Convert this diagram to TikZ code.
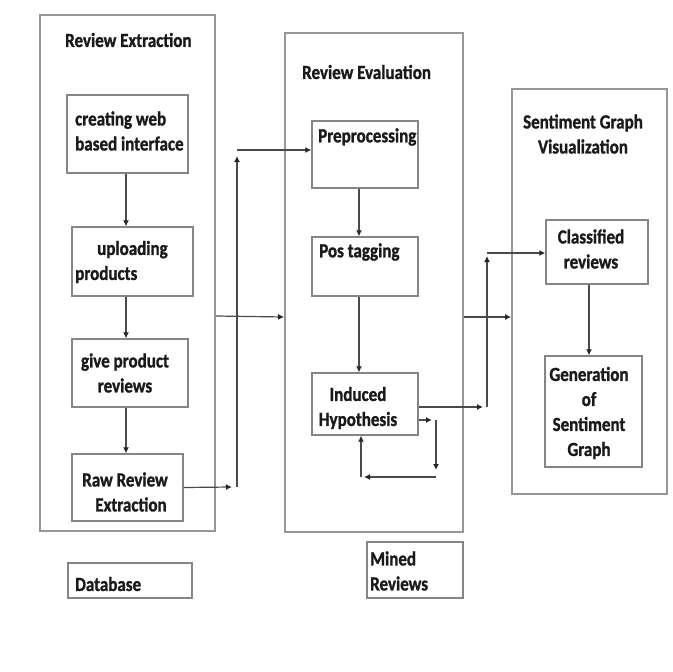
\documentclass[tikz,border=0pt]{standalone}
\usepackage{fontspec}
\setmainfont{Carlito}[FakeStretch=0.85, BoldFeatures={FakeBold=1.2}]
\usetikzlibrary{arrows.meta}
\definecolor{outerc}{HTML}{969696}
\definecolor{innerc}{HTML}{858585}
\definecolor{linec}{HTML}{4A4A4A}
\definecolor{txtc}{HTML}{1A1A1A}
\begin{document}
\begin{tikzpicture}[x=1pt,y=-1pt,
  obox/.style={draw=outerc, line width=1.8pt, rectangle, inner sep=0pt},
  ibox/.style={draw=innerc, line width=1.4pt, rectangle, inner sep=0pt},
  lbl/.style={font=\fontsize{20}{25}\selectfont\bfseries, text=txtc, inner sep=0pt},
  conn/.style={draw=linec, line width=1.2pt, -{Latex[length=6pt,width=6pt,color=black!85]}}
]
\useasboundingbox (0,0) rectangle (673,672);
% outer boxes
\node[obox, minimum width=175, minimum height=516] (o1) at (127.5,273) {};
\node[obox, minimum width=178, minimum height=499] (o2) at (374,282.5) {};
\node[obox, minimum width=155, minimum height=405] (o3) at (589.5,291.5) {};
% inner boxes
\node[ibox, minimum width=121, minimum height=78] (b1) at (127.5,134) {};
\node[ibox, minimum width=121, minimum height=69] (b2) at (132.5,261.5) {};
\node[ibox, minimum width=116, minimum height=68] (b3) at (130,373) {};
\node[ibox, minimum width=111, minimum height=67] (b4) at (127.5,487.5) {};
\node[ibox, minimum width=106, minimum height=67] (pre) at (365,154.5) {};
\node[ibox, minimum width=106, minimum height=59] (pos) at (365,266.5) {};
\node[ibox, minimum width=106, minimum height=62] (ind) at (365,404) {};
\node[ibox, minimum width=102, minimum height=64] (cls) at (597,252) {};
\node[ibox, minimum width=97, minimum height=111] (gen) at (593.5,411.5) {};
\node[ibox, minimum width=96, minimum height=56] (mined) at (415,570) {};
\node[ibox, minimum width=124, minimum height=35] (db) at (130,580.5) {};
% labels
\node[lbl, anchor=west] (t1) at (65,40) {Review Extraction};
\node[lbl, anchor=west, align=left] (t2) at (75,131) {creating web\\based interface};
\node[lbl, anchor=west, align=left] (t3) at (75,262) {\hspace*{22pt}uploading\\products};
\node[lbl, align=center] (t4) at (125,373) {give product\\reviews};
\node[lbl, align=center] (t5) at (125,492) {Raw Review\\\hspace*{12pt}Extraction};
\node[lbl, anchor=west] (t6) at (302,72) {Review Evaluation};
\node[lbl, anchor=west] (t7) at (318,137) {Preprocessing};
\node[lbl, anchor=west] (t8) at (319,252) {Pos tagging};
\node[lbl, align=center] (t9) at (358,408) {Induced\\Hypothesis};
\node[lbl, align=center] (t10) at (583,134) {Sentiment Graph\\Visualization};
\node[lbl, align=center] (t11) at (591,249) {Classified\\reviews};
\node[lbl, align=center] (t12) at (589,413) {Generation\\of\\Sentiment\\Graph};
\node[lbl, anchor=west, align=left] (t13) at (370,571) {Mined\\Reviews};
\node[lbl, anchor=west] (t14) at (75,584) {Database};
% corner coordinates
\coordinate (c1) at (232,487);
\coordinate (c2) at (237,487);
\coordinate (c3) at (237,156);
\coordinate (c4) at (237,150);
\coordinate (d1) at (483,407);
\coordinate (d2) at (487,407);
\coordinate (d3) at (487,256);
\coordinate (d4) at (487,253);
\coordinate (f1) at (432,420);
\coordinate (f2) at (436,420);
\coordinate (f3) at (436,470);
\coordinate (f4) at (436,477);
\coordinate (f5) at (364,477);
\coordinate (f6) at (361,477);
% connectors
\draw[conn] ([xshift=-1.5pt]b1.south) -- ([xshift=-6.5pt]b2.north);
\draw[conn] ([xshift=-6.5pt]b2.south) -- ([xshift=-4pt]b3.north);
\draw[conn] ([xshift=-4pt]b3.south) -- ([xshift=-1.5pt]b4.north);
\draw[conn] (b4.east) -- (c1);
\draw[conn] (c2) -- (c3);
\draw[conn] (c4) -- ([yshift=4.5pt]pre.west);
\draw[conn] ([yshift=-43pt]o1.east) -- ([yshift=-34.5pt]o2.west);
\draw[conn] ([xshift=-6pt]pre.south) -- ([xshift=-6pt]pos.north);
\draw[conn] ([xshift=-6pt]pos.south) -- ([xshift=-6pt]ind.north);
\draw[conn] ([yshift=-3pt]ind.east) -- (d1);
\draw[conn] (d2) -- (d3);
\draw[conn] (d4) -- ([yshift=-1pt]cls.west);
\draw[conn] ([yshift=-34.5pt]o2.east) -- ([yshift=-25.5pt]o3.west);
\draw[conn] ([xshift=-8pt]cls.south) -- ([xshift=-4.5pt]gen.north);
\draw[conn] ([yshift=-16pt]ind.east) -- (f1);
\draw[conn] (f2) -- (f3);
\draw[conn] (f4) -- (f5);
\draw[conn] (f6) -- ([xshift=-4pt]ind.south);
\end{tikzpicture}
\end{document}
